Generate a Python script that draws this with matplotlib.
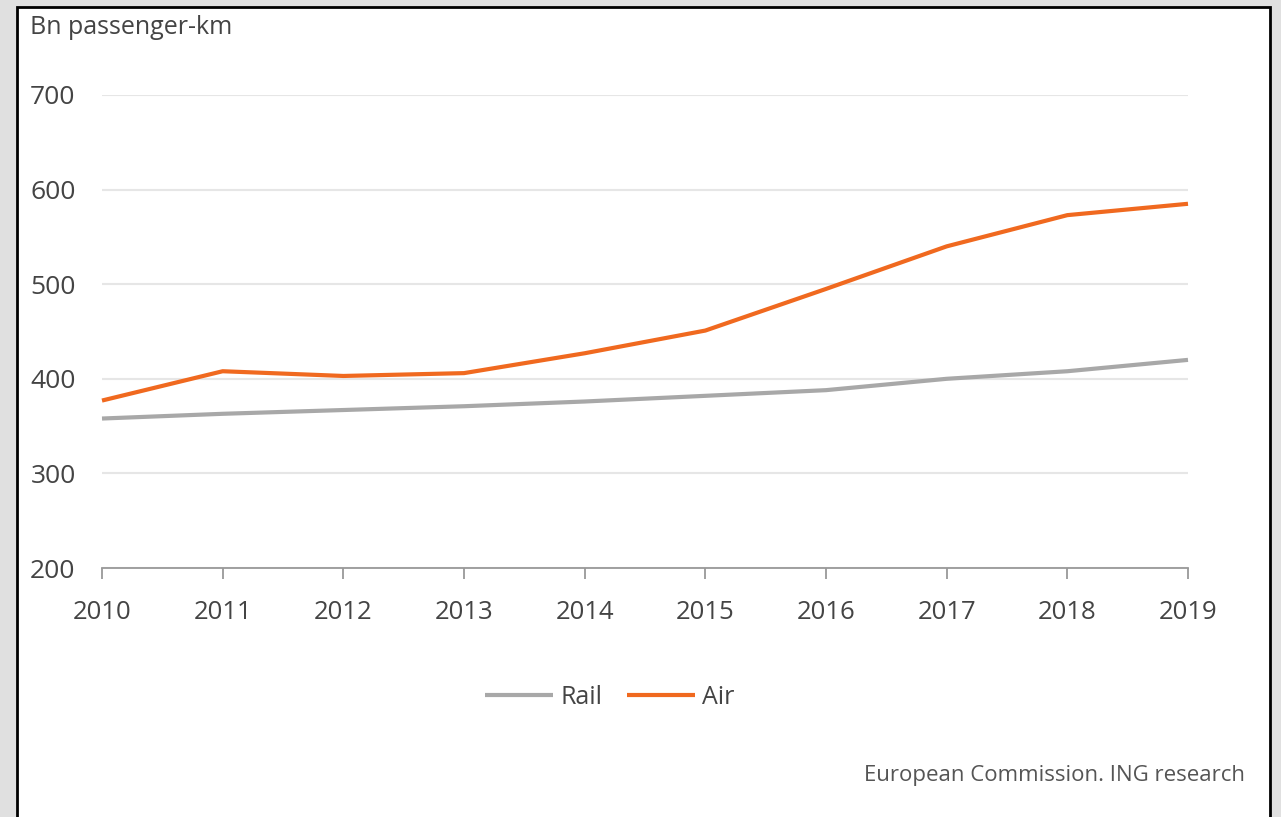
import matplotlib
matplotlib.use('Agg')
import matplotlib.pyplot as plt
from matplotlib.patches import Rectangle
from matplotlib import font_manager as fm

# data
years = [2010, 2011, 2012, 2013, 2014, 2015, 2016, 2017, 2018, 2019]
rail = [358, 363, 367, 371, 376, 382, 388, 400, 408, 420]
air = [377, 408, 403, 406, 427, 451, 495, 540, 573, 585]
yticks = [200, 300, 400, 500, 600, 700]

names = {f.name for f in fm.fontManager.ttflist}
fam = 'Liberation Sans Narrow' if 'Liberation Sans Narrow' in names else 'Open Sans'
plt.rcParams['font.family'] = [fam, 'DejaVu Sans']

txt = '#444444'
orange = '#f0691f'
grey = '#a8a8a8'

fig = plt.figure(figsize=(12.81, 8.17), dpi=100)
fig.patch.set_facecolor('#e0e0e0')
fig.patches.append(Rectangle((17/1281, -0.05), (1270-17)/1281, 1.05 - 7/817,
                             transform=fig.transFigure, facecolor='white',
                             edgecolor='black', linewidth=2, zorder=-5))

ax = fig.add_axes([102/1281, 1-568/817, (1188-102)/1281, (568-95)/817])
ax.set_zorder(2)
ax.set_facecolor('none')
ax.plot(years, rail, color=grey, lw=3, label='Rail', solid_capstyle='butt')
ax.plot(years, air, color=orange, lw=3, label='Air', solid_capstyle='butt')

ax.set_xlim(years[0], years[-1])
ax.set_ylim(200, 700)
ax.set_xticks(years)
ax.set_yticks(yticks)
ax.yaxis.grid(True, color='#e6e6e6', lw=1.5)
ax.set_axisbelow(True)
for s in ['top', 'right', 'left']:
    ax.spines[s].set_visible(False)
ax.spines['bottom'].set_color('#999999')
ax.spines['bottom'].set_linewidth(1.3)
ax.tick_params(axis='x', direction='out', length=8, width=1.3, color='#999999',
               pad=15, labelsize=18.5, labelcolor=txt)
ax.tick_params(axis='y', length=0, pad=19, labelsize=19, labelcolor=txt)
for l in ax.get_lines():
    l.set_clip_on(False)

fig.text(30/1281, 1-28/817, 'Bn passenger-km', fontsize=18, color=txt,
         ha='left', va='center')

leg = fig.legend(loc='center', bbox_to_anchor=(610/1281, 1-697/817), ncol=2,
                 frameon=False, fontsize=18, handlelength=2.7, handletextpad=0.3,
                 columnspacing=1.0)
for t in leg.get_texts():
    t.set_color(txt)

fig.text(1245/1281, 1-776/817, 'European Commission. ING research', fontsize=16,
         color='#555555', ha='right', va='center')

fig.savefig('out.png', dpi=100, facecolor=fig.get_facecolor())
